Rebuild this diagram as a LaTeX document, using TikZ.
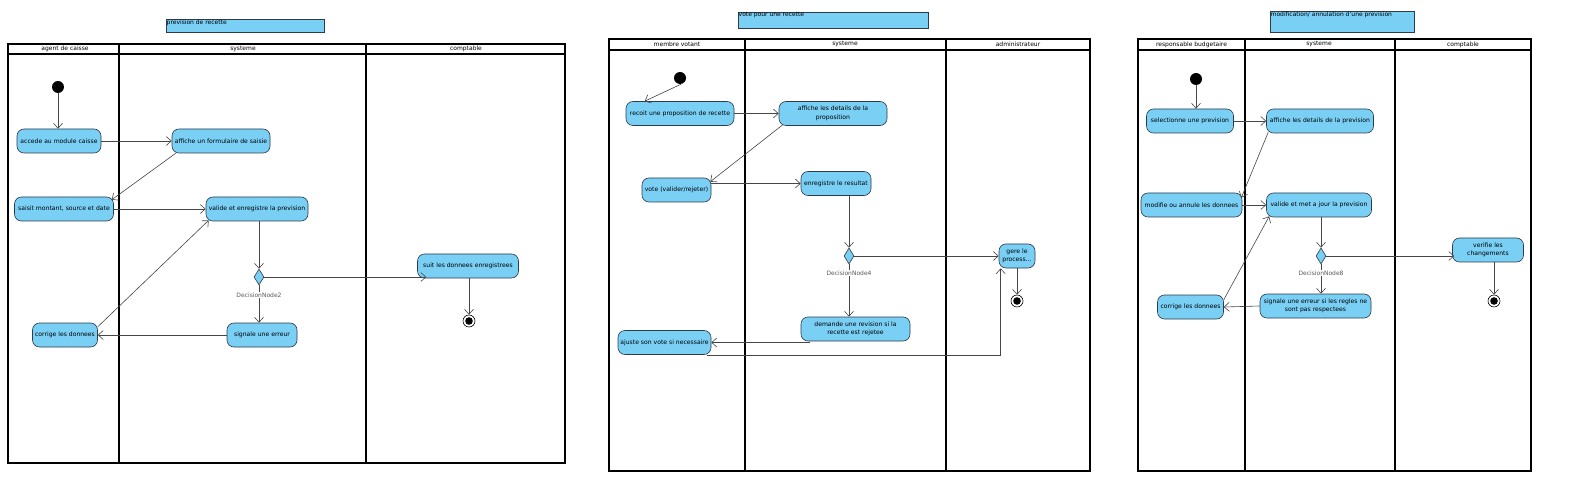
\documentclass[tikz,border=0pt]{standalone}
\usepackage{fontspec}
\setmainfont{DejaVu Sans}
\usetikzlibrary{arrows.meta,shapes.geometric,calc}
\definecolor{actfill}{RGB}{122,207,245}
\definecolor{actborder}{RGB}{45,60,75}
\definecolor{arrgray}{RGB}{70,70,70}
\definecolor{lblgray}{RGB}{90,90,90}
\tikzset{
  act/.style={draw=actborder,fill=actfill,rounded corners=7pt,minimum height=24pt,
    inner sep=1pt,align=center,font=\fontsize{6.1}{8.5}\selectfont,line width=0.6pt},
  arr/.style={draw=arrgray,line width=0.6pt,-{Straight Barb[length=5pt,width=9pt]}},
  startnode/.style={circle,fill=black,minimum size=12pt,inner sep=0pt},
  endnode/.style={circle,draw=black,fill=white,line width=0.6pt,minimum size=12pt,inner sep=0pt,
    path picture={\fill[black] (path picture bounding box.center) circle (3.8pt);}},
  decnode/.style={diamond,draw=actborder,fill=actfill,minimum width=10pt,minimum height=16pt,
    inner sep=0pt,line width=0.6pt},
  declabel/.style={fill=white,inner sep=0.5pt,text=lblgray,font=\fontsize{6}{7}\selectfont},
  lane/.style={draw=black,line width=1.1pt},
  thicklane/.style={draw=black,line width=2pt},
  lanehead/.style={font=\fontsize{6}{7}\selectfont,inner sep=0pt},
  titlebox/.style={draw=actborder,fill=actfill,line width=0.6pt},
  titletext/.style={anchor=north west,inner sep=0.5pt,font=\fontsize{6}{7}\selectfont}
}
\begin{document}
\begin{tikzpicture}[x=1pt,y=-1pt]
\useasboundingbox (0,0) rectangle (1573,486);
\fill[white] (0,0) rectangle (1573,486);

%% ================= Diagram 1 =================
\draw[titlebox] (166,19) rectangle (324,32);
\node[titletext] (t1) at (166,19) {prevision de recette};
\draw[lane] (8,44) rectangle (565,463);
\draw[lane] (8,54) -- (565,54);
\draw[lane] (119,44) -- (119,463);
\draw[lane] (366,44) -- (366,463);
\node[lanehead] (h11) at (65,49) {agent de caisse};
\node[lanehead] (h12) at (243,49) {systeme};
\node[lanehead] (h13) at (466,49) {comptable};

\node[startnode] (i1) at (58,87) {};
\node[act,minimum width=84pt] (a1) at (59,141) {accede au module caisse};
\node[act,minimum width=98pt] (a2) at (221,141) {affiche un formulaire de saisie};
\node[act,minimum width=99pt] (a3) at (64,209) {saisit montant, source et date};
\node[act,minimum width=102pt] (a4) at (257,209) {valide et enregistre la prevision};
\node[decnode] (d1) at (259,277) {};
\node[act,minimum width=70pt] (a5) at (262,335) {signale une erreur};
\node[act,minimum width=65pt] (a6) at (65,335) {corrige les donnees};
\node[act,minimum width=101pt] (a7) at (468,266) {suit les donnees enregistrees};
\node[endnode] (f1) at (469,321) {};

\draw[arr] (i1) -- (i1 |- a1.north);
\draw[arr] (a1.east) -- (a2.west);
\draw[arr] ($(a2.south west)+(4,0)$) -- ($(a3.north east)+(-2,3)$);
\draw[arr] (a3.east) -- (a4.west);
\draw[arr] (a4.south -| d1) -- (d1.north);
\draw[arr] (d1.south) -- (d1.south |- a5.north);
\node[declabel] (l1) at (259,295) {DecisionNode2};
\draw[arr] (a5.west) -- (a6.east);
\draw[arr] ($(a6.north east)+(0,4)$) -- ($(a4.south west)+(3,-1)$);
\draw[arr] (d1.east) -- ($(d1.east -| a7.west)+(9,0)$);
\draw[arr] (a7.south -| f1) -- (f1.north);

%% ================= Diagram 2 =================
\draw[titlebox] (738,12) rectangle (928,28);
\node[titletext] (t2) at (738,12) {vote pour une recette};
\draw[lane] (609,39) rectangle (1090,471);
\draw[lane] (609,50) -- (1090,50);
\draw[thicklane] (745,39) -- (745,471);
\draw[lane] (946,39) -- (946,471);
\node[lanehead] (h21) at (677,44.5) {membre votant};
\node[lanehead] (h22) at (845,44.5) {systeme};
\node[lanehead] (h23) at (1018,44.5) {administrateur};

\node[startnode] (i2) at (680,78) {};
\node[act,minimum width=108pt] (b1) at (680,113.5) {recoit une proposition de recette};
\node[act,minimum width=108pt] (b2) at (833,113.5) {affiche les details de la\\proposition};
\node[act,minimum width=69pt] (b3) at (676.5,190) {vote (valider/rejeter)};
\node[act,minimum width=70pt] (b4) at (836,183.5) {enregistre le resultat};
\node[decnode] (d2) at (849,256) {};
\node[act,minimum width=109pt] (b5) at (855.5,329) {demande une revision si la\\recette est rejetee};
\node[act,minimum width=93pt] (b6) at (664.5,342.5) {ajuste son vote si necessaire};
\node[act,minimum width=36pt] (b7) at (1017,256) {gere le\\process...};
\node[endnode] (f2) at (1017,301) {};

\draw[arr] ($(i2.south)+(1,0)$) -- ($(b1.north west)+(19,0)$);
\draw[arr] (b1.east) -- (b2.west);
\draw[arr] ($(b2.south west)+(4,-1)$) -- ($(b3.north east)+(-1,4)$);
\draw[arr] (b3.east |- b4.west) -- (b4.west);
\draw[arr] (b4.south -| d2) -- (d2.north);
\draw[arr] (d2.south) -- (d2.south |- b5.north);
\node[declabel] (l2) at (849,273) {DecisionNode4};
\draw[arr] (d2.east) -- (b7.west);
\coordinate (b5s) at ($(b5.south west)+(9,0)$);
\draw[arr] (b5s |- b6.east) -- (b6.east);
\coordinate (b6s) at ($(b6.south east)+(-4,0)$);
\coordinate (b7s) at ($(b7.south west)+(2,0)$);
\draw[arr] (b6s) -| (b7s);
\draw[arr] (b7.south -| f2) -- (f2.north);

%% ================= Diagram 3 =================
\draw[titlebox] (1270,11) rectangle (1414,32);
\node[titletext] (t3) at (1270,11) {modification/ annulation d'une prevision};
\draw[lane] (1138,39) rectangle (1531,471);
\draw[lane] (1138,50) -- (1531,50);
\draw[thicklane] (1245,39) -- (1245,471);
\draw[lane] (1395,39) -- (1395,471);
\node[lanehead] (h31) at (1191.5,44.5) {responsable budgetaire};
\node[lanehead] (h32) at (1319,44.5) {systeme};
\node[lanehead] (h33) at (1463,44.5) {comptable};

\node[startnode] (i3) at (1196,79) {};
\node[act,minimum width=87pt] (c1) at (1190,121) {selectionne une prevision};
\node[act,minimum width=107pt] (c2) at (1320,121) {affiche les details de la prevision};
\node[act,minimum width=101pt] (c3) at (1191.5,205) {modifie ou annule les donnees};
\node[act,minimum width=105pt] (c4) at (1319,205) {valide et met a jour la prevision};
\node[decnode] (d3) at (1321,256) {};
\node[act,minimum width=111pt] (c5) at (1315.5,306) {signale une erreur si les regles ne\\sont pas respectees};
\node[act,minimum width=66pt] (c6) at (1190.5,307) {corrige les donnees};
\node[act,minimum width=71pt] (c7) at (1488,250) {verifie les\\changements};
\node[endnode] (f3) at (1494,301) {};

\draw[arr] (i3) -- (i3 |- c1.north);
\draw[arr] (c1.east) -- (c2.west);
\draw[arr] ($(c2.south west)+(2,-1)$) -- ($(c3.north east)+(-1,5)$);
\draw[arr] (c3.east) -- (c4.west);
\draw[arr] (c4.south -| d3) -- (d3.north);
\draw[arr] (d3.south) -- (d3.south |- c5.north);
\node[declabel] (l3) at (1321,273) {DecisionNode8};
\draw[arr] (c5.west) -- (c6.east);
\draw[arr] ($(c6.north east)+(0,5)$) -- ($(c4.south west)+(3,-1)$);
\draw[arr] (d3.east) -- ($(d3.east -| c7.west)+(2,0)$);
\draw[arr] (c7.south -| f3) -- (f3.north);
\end{tikzpicture}
\end{document}
